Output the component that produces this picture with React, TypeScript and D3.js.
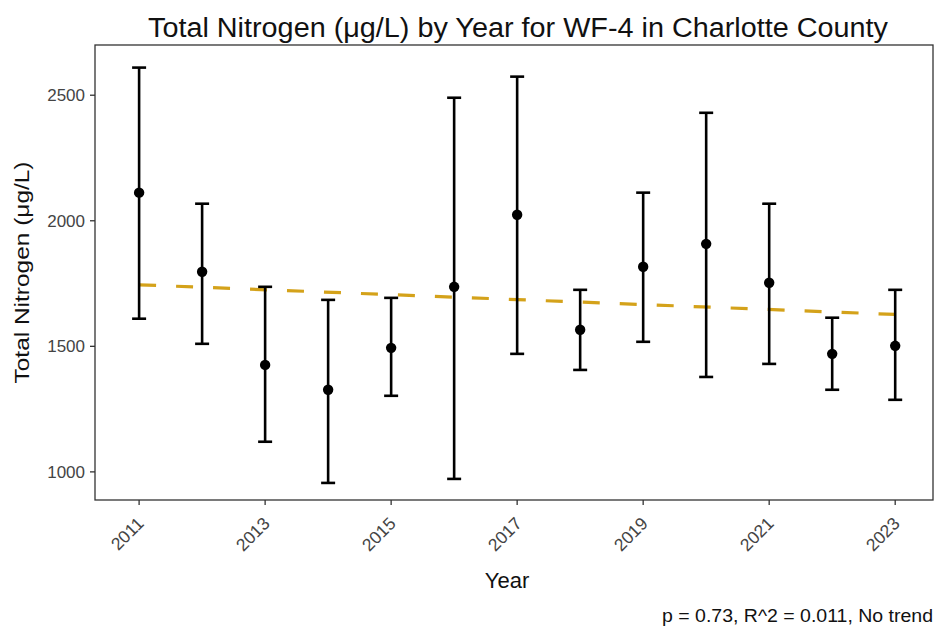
import React from "react";
import * as d3 from "d3";

const years = [2011, 2012, 2013, 2014, 2015, 2016, 2017, 2018, 2019, 2020, 2021, 2022, 2023];
const means = [2112, 1797, 1426, 1327, 1494, 1737, 2024, 1566, 1817, 1908, 1753, 1470, 1502];
const upper = [2610, 2068, 1737, 1685, 1693, 2490, 2574, 1725, 2112, 2430, 2068, 1614, 1725];
const lower = [1610, 1510, 1120, 956, 1303, 972, 1470, 1406, 1518, 1378, 1430, 1327, 1287];
const trendYears = [2011, 2023];
const trendValues = [1745, 1627];
const yTicks = [1000, 1500, 2000, 2500];
const xTicks = [2011, 2013, 2015, 2017, 2019, 2021, 2023];

const W = 937;
const H = 631;
const panel = { left: 95, right: 933, top: 45, bottom: 500 };

export default function App() {
  const x = d3.scaleLinear().domain([2010.3, 2023.6]).range([panel.left, panel.right]);
  const y = d3.scaleLinear().domain([888, 2700]).range([panel.bottom, panel.top]);
  const trendLine = d3
    .line<number>()
    .x((_, i) => x(trendYears[i]))
    .y((d) => y(d))(trendValues);
  const font = "'Liberation Sans', Arial, Helvetica, sans-serif";
  return (
    <svg
      width={W}
      height={H}
      style={{ position: "absolute", left: 0, top: 0, background: "#fff" }}
      fontFamily={font}
    >
      <rect x={0} y={0} width={W} height={H} fill="#fff" />
      <text
        x={518}
        y={37}
        textAnchor="middle"
        fontSize={27}
        fill="#111"
        textLength={740}
        lengthAdjust="spacingAndGlyphs"
      >
        Total Nitrogen (μg/L) by Year for WF-4 in Charlotte County
      </text>
      <rect
        x={panel.left}
        y={panel.top}
        width={panel.right - panel.left}
        height={panel.bottom - panel.top}
        fill="#fff"
        stroke="#333"
        strokeWidth={1.3}
      />
      {yTicks.map((t) => (
        <g key={t}>
          <line x1={panel.left - 5} x2={panel.left} y1={y(t)} y2={y(t)} stroke="#333" strokeWidth={1.3} />
          <text x={panel.left - 10} y={y(t)} dy="0.35em" textAnchor="end" fontSize={17} fill="#444">
            {t}
          </text>
        </g>
      ))}
      {xTicks.map((t) => (
        <g key={t}>
          <line x1={x(t)} x2={x(t)} y1={panel.bottom} y2={panel.bottom + 5} stroke="#333" strokeWidth={1.3} />
          <text
            transform={`translate(${x(t) - 3},${panel.bottom + 16}) rotate(-45)`}
            textAnchor="end"
            dy="0.7em"
            fontSize={17.5}
            fill="#444"
          >
            {t}
          </text>
        </g>
      ))}
      <path
        d={trendLine || ""}
        fill="none"
        stroke="#D4A21A"
        strokeWidth={3.2}
        strokeDasharray="17 20"
      />
      {years.map((yr, i) => (
        <g key={yr} stroke="#000" strokeWidth={2.6}>
          <line x1={x(yr)} x2={x(yr)} y1={y(upper[i])} y2={y(lower[i])} />
          <line x1={x(yr) - 7} x2={x(yr) + 7} y1={y(upper[i])} y2={y(upper[i])} />
          <line x1={x(yr) - 7} x2={x(yr) + 7} y1={y(lower[i])} y2={y(lower[i])} />
          <circle cx={x(yr)} cy={y(means[i])} r={5.2} fill="#000" stroke="none" />
        </g>
      ))}
      <text x={507} y={588} textAnchor="middle" fontSize={22} fill="#111">
        Year
      </text>
      <text
        transform={`translate(29,${(panel.top + panel.bottom) / 2}) rotate(-90)`}
        textAnchor="middle"
        fontSize={21}
        fill="#111"
        textLength={222}
        lengthAdjust="spacingAndGlyphs"
      >
        Total Nitrogen (μg/L)
      </text>
      <text
        x={933}
        y={622}
        textAnchor="end"
        fontSize={18}
        fill="#111"
        textLength={271}
        lengthAdjust="spacingAndGlyphs"
      >
        p = 0.73, R^2 = 0.011, No trend
      </text>
    </svg>
  );
}
